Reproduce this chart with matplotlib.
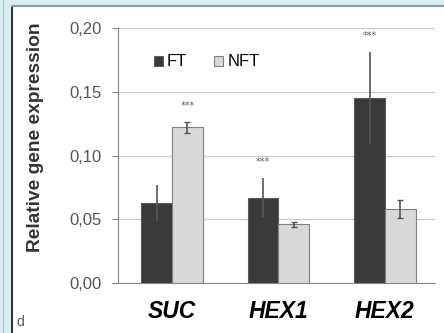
import numpy as np
import matplotlib.pyplot as plt
from matplotlib.patches import Rectangle

plt.rcParams['font.family'] = ['Liberation Sans', 'DejaVu Sans']

genes = ['SUC', 'HEX1', 'HEX2']
ft = [0.063, 0.067, 0.145]
ft_err = [0.014, 0.015, 0.036]
nft = [0.122, 0.046, 0.058]
nft_err = [0.004, 0.002, 0.007]
ft_sig = ['', '***', '***']
nft_sig = ['***', '', '']

W, H = 444, 333
fig = plt.figure(figsize=(W / 100, H / 100), dpi=100, facecolor='#d9eef0')

# white panel with dark left and top edge
panel = fig.add_axes([11 / W, 0, 1 - 11 / W, 1 - 5 / H])
panel.set_xlim(0, 1)
panel.set_ylim(0, 1)
panel.axis('off')
panel.add_patch(Rectangle((0, 0), 1, 1, facecolor='white', edgecolor='none'))
panel.axvline(0.002, color='#333333', lw=1.5)
panel.axhline(0.998, color='#8aa0a4', lw=1.5)
fig.add_artist(plt.Line2D([3 / W, 3 / W], [0, 1], color='#b0c4c8', lw=0.8))

ax = fig.add_axes([118 / W, 1 - 283 / H, (435 - 118) / W, (283 - 28) / H])
x = np.arange(len(genes))
w = 0.29
ax.bar(x - w / 2, ft, w, color='#3a3a3a', edgecolor='#5a5a5a', lw=0.8, zorder=3, label='FT')
ax.bar(x + w / 2, nft, w, color='#d8d8d8', edgecolor='#808080', lw=0.8, zorder=3, label='NFT')
ax.errorbar(x - w / 2, ft, yerr=ft_err, fmt='none', ecolor='#555555', elinewidth=1.2, capsize=0, zorder=4)
ax.errorbar(x + w / 2, nft, yerr=nft_err, fmt='none', ecolor='#555555', elinewidth=1.2, capsize=2, zorder=4)

for i in range(len(genes)):
    if ft_sig[i]:
        ax.text(x[i] - w / 2, ft[i] + ft_err[i] + 0.009, ft_sig[i], ha='center', va='bottom',
                fontsize=7, color='#666666', family='DejaVu Sans')
    if nft_sig[i]:
        ax.text(x[i] + w / 2, nft[i] + nft_err[i] + 0.009, nft_sig[i], ha='center', va='bottom',
                fontsize=7, color='#666666', family='DejaVu Sans')

ax.set_xlim(-0.507, 2.47)
ax.set_ylim(0, 0.2)
ax.set_yticks([0, 0.05, 0.10, 0.15, 0.20])
ax.set_yticklabels(['0,00', '0,05', '0,10', '0,15', '0,20'], fontsize=12, color='#555555')
ax.yaxis.grid(True, color='#c8c8c8', lw=0.8, zorder=0)
ax.tick_params(axis='y', length=4, color='#888888', pad=8)
ax.tick_params(axis='x', length=0, pad=12)
ax.set_xticks(x)
ax.set_xticklabels(genes, fontsize=16.5, fontweight='bold', fontstyle='italic')
for s in ['top', 'right']:
    ax.spines[s].set_visible(False)
ax.spines['left'].set_color('#888888')
ax.spines['bottom'].set_color('#888888')
ax.set_facecolor('white')

ax.set_ylabel('Relative gene expression', fontsize=13.8, fontweight='bold', color='#333333')
ax.yaxis.set_label_coords(-(118 - 44) / (435 - 118), 0.57)

ax.legend(loc='upper left', bbox_to_anchor=(0.065, 0.955), ncol=2, frameon=False, fontsize=12,
          handlelength=0.55, handleheight=0.55, handletextpad=0.25, columnspacing=1.6)

fig.text(20 / W, 1 - 322 / H, 'd', fontsize=10, color='#555555', ha='center', va='center')

fig.savefig('out.png', dpi=100, facecolor=fig.get_facecolor())
